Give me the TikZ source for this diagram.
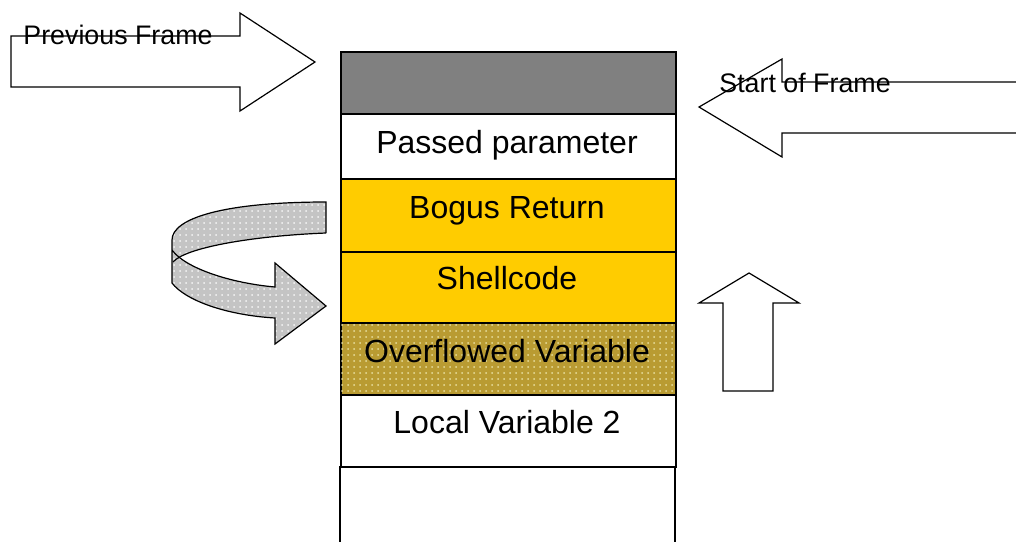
\documentclass[tikz,border=0pt]{standalone}
\usepackage{fontspec}
\setmainfont{Liberation Sans}
\usetikzlibrary{patterns}
\definecolor{stackgray}{RGB}{128,128,128}
\definecolor{gold}{RGB}{255,204,0}
\definecolor{olivegold}{RGB}{185,155,50}
\definecolor{olivedot}{RGB}{232,222,160}
\definecolor{ribbon}{RGB}{196,196,196}
\tikzset{
  row/.style={draw, line width=0.75pt, anchor=north west, inner sep=0pt, minimum width=167.5pt},
  celltext/.style={font=\fontsize{16}{19}\selectfont, inner sep=0pt, anchor=base},
  labeltext/.style={font=\fontsize{13.4}{16}\selectfont, inner sep=0pt, anchor=base west},
  outline/.style={draw, line width=0.6pt, line join=miter},
}
\begin{document}
\begin{tikzpicture}[x=0.5pt,y=-0.5pt]
\useasboundingbox (0,0) rectangle (1016,541);
% stack rows
\node[row, fill=stackgray, minimum height=31pt] (top) at (340,51) {};
\node[row, fill=white, minimum height=32.5pt] (param) at (340,113) {};
\node[row, fill=gold, minimum height=36.5pt] (bogus) at (340,178) {};
\node[row, fill=gold, minimum height=35.5pt] (shell) at (340,251) {};
\node[row, fill=olivegold, minimum height=36pt, postaction={pattern=dots, pattern color=olivedot}] (overflow) at (340,322) {};
\node[row, fill=white, minimum height=36pt] (local) at (340,394) {};
\draw[line width=0.75pt] (340,466) -- (340,545) (675,466) -- (675,545);
% texts
\node[celltext] (tparam) at (507,153) {Passed parameter};
\node[celltext] (tbogus) at (507,218) {Bogus Return};
\node[celltext] (tshell) at (507,289) {Shellcode};
\node[celltext] (tover) at (507,362) {Overflowed Variable};
\node[celltext] (tlocal) at (507,433) {Local Variable 2};
% previous frame arrow
\draw[outline] (11,36) -- (240,36) -- (240,13) -- (315,62) -- (240,111) -- (240,87) -- (11,87) -- cycle;
\node[labeltext] (tprev) at (23,44) {Previous Frame};
% start of frame arrow
\draw[outline] (1022,82) -- (782,82) -- (782,59) -- (699,107) -- (782,157) -- (782,133) -- (1022,133);
\node[labeltext] (tstart) at (719,92) {Start of Frame};
% up arrow
\draw[outline] (723,391) -- (723,303) -- (699,303) -- (749,273) -- (799,303) -- (773,303) -- (773,391) -- cycle;
% curved ribbon arrow
\path[fill=ribbon, postaction={pattern=dots, pattern color=white!85!ribbon}]
  (326,202) .. controls (225,202) and (172,218) .. (172,240) -- (172,262)
  .. controls (185,248) and (250,236) .. (326,233) -- cycle;
\path[fill=ribbon, postaction={pattern=dots, pattern color=white!85!ribbon}]
  (172,250) .. controls (185,268) and (230,283) .. (275,287) -- (275,263) -- (326,306)
  -- (275,344) -- (275,318) .. controls (225,315) and (185,300) .. (172,283) -- cycle;
\draw[outline]
  (326,233) -- (326,202) .. controls (225,202) and (172,218) .. (172,240) -- (172,283)
  .. controls (185,300) and (225,315) .. (275,318) -- (275,344) -- (326,306) -- (275,263)
  -- (275,287) .. controls (230,283) and (185,268) .. (172,250);
\draw[outline] (173,262) .. controls (185,248) and (250,236) .. (326,233);
\end{tikzpicture}
\end{document}
